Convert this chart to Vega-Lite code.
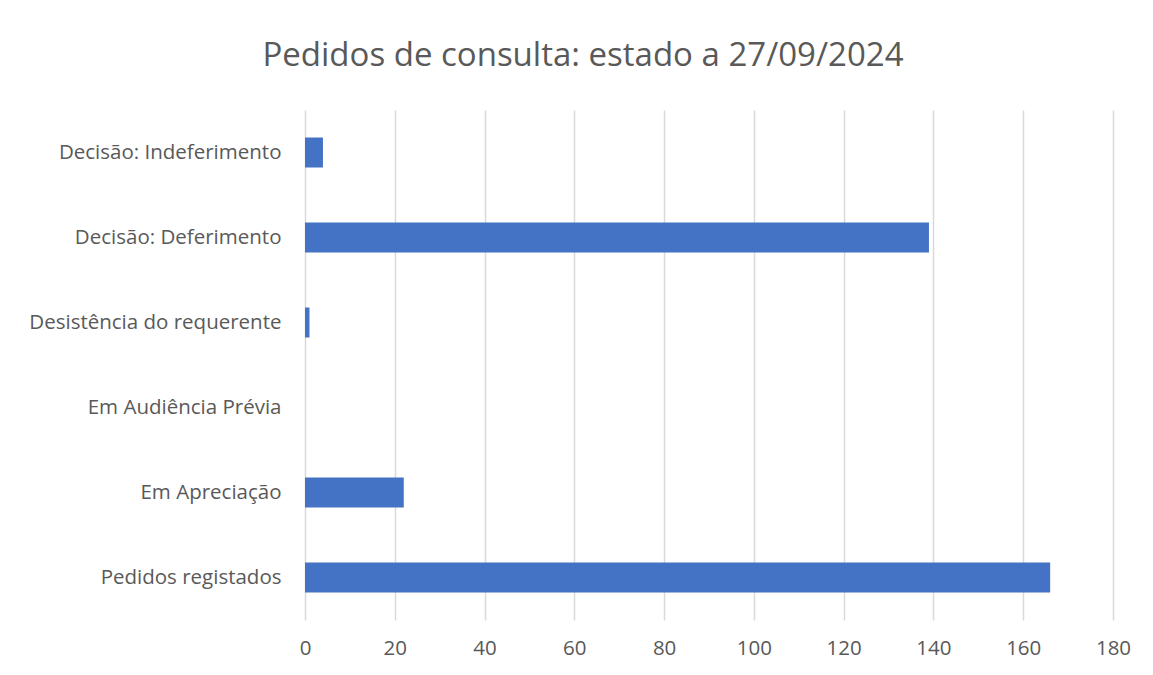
{
  "$schema": "https://vega.github.io/schema/vega-lite/v6.json",
  "autosize": "none",
  "width": 808,
  "height": 510,
  "padding": {"left": 305, "top": 110, "right": 40, "bottom": 55},
  "background": "white",
  "title": {
    "text": "Pedidos de consulta: estado a 27/09/2024",
    "anchor": "middle",
    "frame": "group",
    "dx": -126,
    "dy": 34,
    "offset": 45,
    "baseline": "alphabetic",
    "font": "Open Sans",
    "fontSize": 33,
    "fontWeight": "normal",
    "color": "#595959"
  },
  "data": {
    "values": [
      {"estado": "Decisão: Indeferimento", "n": 4},
      {"estado": "Decisão: Deferimento", "n": 139},
      {"estado": "Desistência do requerente", "n": 1},
      {"estado": "Em Audiência Prévia", "n": 0},
      {"estado": "Em Apreciação", "n": 22},
      {"estado": "Pedidos registados", "n": 166}
    ]
  },
  "mark": {"type": "bar", "color": "#4472C4"},
  "encoding": {
    "y": {
      "field": "estado",
      "type": "nominal",
      "sort": null,
      "scale": {"paddingInner": 0.647, "paddingOuter": 0.3235},
      "axis": {
        "title": null,
        "domain": false,
        "ticks": false,
        "labelFont": "Open Sans",
        "labelFontSize": 20.5,
        "labelColor": "#595959",
        "labelPadding": 24,
        "labelLimit": 400
      }
    },
    "x": {
      "field": "n",
      "type": "quantitative",
      "scale": {"domain": [0, 180], "nice": false},
      "axis": {
        "title": null,
        "values": [0, 20, 40, 60, 80, 100, 120, 140, 160, 180],
        "domain": false,
        "ticks": false,
        "grid": true,
        "gridColor": "#d9d9d9",
        "gridWidth": 1.5,
        "labelFlush": false,
        "labelFont": "Open Sans",
        "labelFontSize": 20.5,
        "labelColor": "#595959",
        "labelPadding": 18
      }
    }
  },
  "config": {"view": {"stroke": null}}
}
